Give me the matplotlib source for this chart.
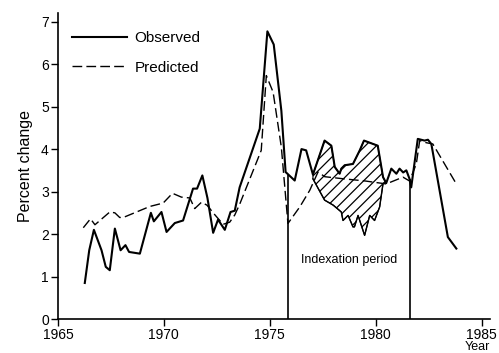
import matplotlib
matplotlib.use("Agg")
import matplotlib.pyplot as plt
import numpy as np

plt.rcParams['font.family'] = ['Liberation Sans', 'DejaVu Sans']
plt.rcParams['hatch.linewidth'] = 0.9

# Observed series (year, percent change)
obs_years = [1966.27, 1966.48, 1966.70, 1967.06, 1967.26, 1967.45, 1967.69, 1967.96,
             1968.19, 1968.36, 1968.87, 1969.39, 1969.53, 1969.89, 1970.13, 1970.52,
             1970.91, 1971.38, 1971.57, 1971.82, 1972.06, 1972.33, 1972.56, 1972.88,
             1973.15, 1973.35, 1973.58, 1974.53, 1974.89, 1975.19, 1975.55, 1975.75,
             1976.18, 1976.50, 1976.72, 1977.04, 1977.59, 1977.91, 1978.07, 1978.30,
             1978.38, 1978.54, 1978.93, 1979.25, 1979.45, 1980.10, 1980.35, 1980.50,
             1980.74, 1980.98, 1981.13, 1981.30, 1981.45, 1981.60, 1981.68, 1981.99,
             1982.31, 1982.47, 1982.63, 1983.41, 1983.81]
obs_values = [0.85, 1.62, 2.10, 1.62, 1.23, 1.15, 2.13, 1.62,
              1.74, 1.58, 1.54, 2.50, 2.30, 2.52, 2.05, 2.26,
              2.32, 3.07, 3.07, 3.38, 2.85, 2.03, 2.34, 2.10,
              2.52, 2.55, 3.10, 4.48, 6.77, 6.46, 4.90, 3.46,
              3.26, 4.00, 3.97, 3.40, 4.20, 4.08, 3.58, 3.42,
              3.54, 3.62, 3.65, 3.97, 4.20, 4.08, 3.34, 3.20,
              3.54, 3.42, 3.54, 3.45, 3.50, 3.30, 3.10, 4.24,
              4.20, 4.22, 4.12, 1.93, 1.66]

# Lower boundary of the hatched band during indexation
band_years = [1977.04, 1977.59, 1978.00, 1978.38, 1978.46, 1978.70, 1978.93, 1979.00,
              1979.17, 1979.48, 1979.72, 1979.95, 1980.19, 1980.35, 1980.50]
band_low = [3.30, 2.80, 2.68, 2.52, 2.32, 2.44, 2.17, 2.17,
            2.44, 1.97, 2.44, 2.32, 2.64, 3.19, 3.20]

# Predicted series
pred_years = [1966.20, 1966.54, 1966.75, 1967.45, 1967.69, 1967.92, 1968.13, 1969.34,
              1969.97, 1970.41, 1970.83, 1971.23, 1971.46, 1971.78, 1972.04, 1972.40,
              1972.80, 1973.11, 1973.35, 1973.58, 1974.60, 1974.84, 1975.16, 1975.55,
              1975.86, 1976.42, 1976.89, 1977.28, 1977.60, 1978.50, 1979.50, 1980.50,
              1981.29, 1981.60, 1981.92, 1982.08, 1982.39, 1982.70, 1983.81]
pred_values = [2.15, 2.36, 2.22, 2.52, 2.50, 2.39, 2.40, 2.65,
               2.73, 2.96, 2.87, 2.85, 2.60, 2.75, 2.68, 2.46,
               2.23, 2.28, 2.45, 2.70, 3.97, 5.73, 5.34, 4.04,
               2.25, 2.64, 3.03, 3.46, 3.35, 3.30, 3.25, 3.18,
               3.34, 3.25, 3.65, 4.20, 4.15, 4.12, 3.18]

index_start, index_end = 1975.88, 1981.60
x_ticks = [1965, 1970, 1975, 1980, 1985]
y_ticks = [0, 1, 2, 3, 4, 5, 6, 7]

fig = plt.figure(figsize=(4.99, 3.53), dpi=100)
ax = fig.add_axes([0.116, 0.096, 0.866, 0.867])

obs_x = np.array(obs_years)
obs_y = np.array(obs_values)

# hatched band
mask = (obs_x >= band_years[0]) & (obs_x <= band_years[-1])
poly_x = np.concatenate([obs_x[mask], np.array(band_years)[::-1]])
poly_y = np.concatenate([obs_y[mask], np.array(band_low)[::-1]])
ax.fill(poly_x, poly_y, facecolor='white', edgecolor='black', hatch='///', linewidth=0.8)

ax.plot(obs_x, obs_y, color='black', lw=1.5, label='Observed')
ax.plot(band_years, band_low, color='black', lw=1.0)
ax.plot(pred_years, pred_values, color='black', lw=1.0, dashes=(7, 3), label='Predicted')

# indexation period boundaries
for xv in (index_start, index_end):
    ax.vlines(xv, 0, np.interp(xv, obs_x, obs_y), color='black', lw=1.2)

ax.text((index_start + index_end) / 2, 1.4, 'Indexation period', ha='center', va='center', fontsize=9)

ax.set_xlim(1965, 1985.4)
ax.set_ylim(0, 7.2)
ax.set_xticks(x_ticks)
ax.set_yticks(y_ticks)
ax.tick_params(labelsize=10, length=5, width=1, direction='out', pad=1.5)
for s in ('top', 'right'):
    ax.spines[s].set_visible(False)
for s in ('left', 'bottom'):
    ax.spines[s].set_linewidth(1.2)
ax.set_ylabel('Percent change', fontsize=11.5, labelpad=6)
fig.text(0.932, 0.001, 'Year', fontsize=9, ha='left', va='bottom')

ax.legend(loc='upper left', bbox_to_anchor=(0.0, 0.985), frameon=False, fontsize=11,
          handlelength=3.6, handletextpad=0.5, labelspacing=1.0)

fig.savefig('out.png', dpi=100)
